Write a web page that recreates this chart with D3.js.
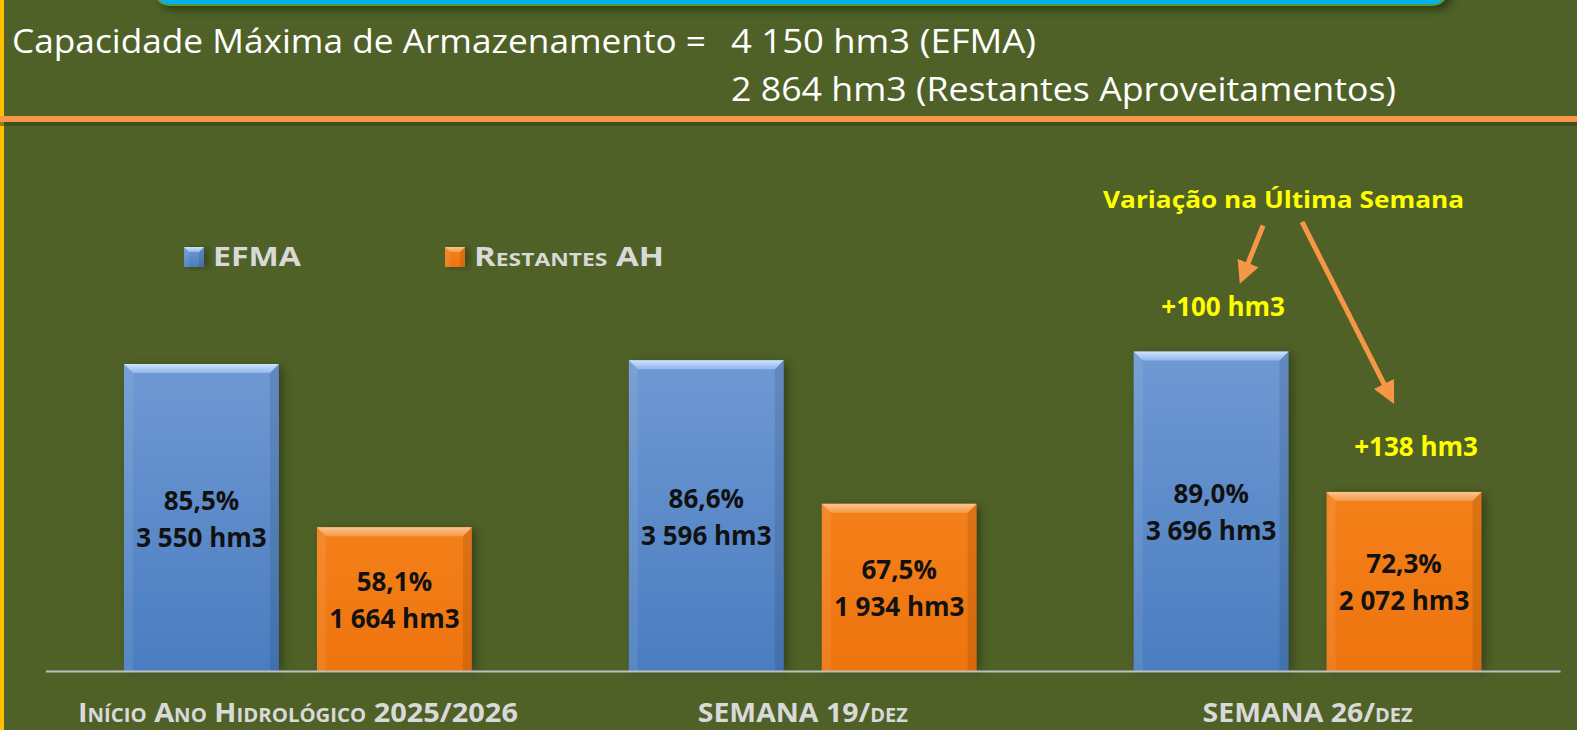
<!DOCTYPE html>
<html>
<head>
<meta charset="utf-8">
<script src="https://cdn.jsdelivr.net/npm/d3@7"></script>
<style>
  html, body { margin: 0; padding: 0; background: #506128; overflow: hidden; }
  svg { display: block; font-family: "Open Sans", sans-serif; }
</style>
</head>
<body>
<div id="chart"></div>
<script>
// data
var categories = ["Início Ano Hidrológico 2025/2026", "SEMANA 19/dez", "SEMANA 26/dez"];
var seriesNames = ["EFMA", "Restantes AH"];
var efmaVolume = [3550, 3596, 3696];
var efmaPercent = ["85,5%", "86,6%", "89,0%"];
var restVolume = [1664, 1934, 2072];
var restPercent = ["58,1%", "67,5%", "72,3%"];
var capacity = [4150, 2864];
var weeklyChange = ["+100 hm3", "+138 hm3"];

var W = 1577, H = 730;
var margin = {top: 282, left: 45.5, right: 17, bottom: 59};

var svg = d3.select("#chart").append("svg")
    .attr("width", W)
    .attr("height", H);

var defs = svg.append("defs");

// gradients for the bevelled bars
function vgrad(id, stops) {
  var g = defs.append("linearGradient").attr("id", id)
    .attr("x1", 0).attr("y1", 0).attr("x2", 0).attr("y2", 1);
  stops.forEach(function(s) {
    g.append("stop").attr("offset", s[0]).attr("stop-color", s[1]);
  });
}
vgrad("blueBody", [[0, "#6f99d3"], [1, "#4a7dc0"]]);
vgrad("blueTop", [[0, "#cfe3ff"], [1, "#8fb6ea"]]);
vgrad("orangeBody", [[0, "#f4801a"], [1, "#ee740e"]]);
vgrad("orangeTop", [[0, "#fbc48e"], [1, "#f59a4a"]]);

defs.append("filter").attr("id", "blur")
  .attr("x", "-20%").attr("y", "-20%").attr("width", "140%").attr("height", "140%")
  .append("feGaussianBlur").attr("stdDeviation", 4);

var arrowMarker = defs.append("marker")
    .attr("id", "arrow")
    .attr("viewBox", "0 0 10 10")
    .attr("refX", 6).attr("refY", 5)
    .attr("markerWidth", 4.5).attr("markerHeight", 4.5)
    .attr("orient", "auto");
arrowMarker.append("path").attr("d", "M0,0 L10,5 L0,10 Z").attr("fill", "#f79646");

var colors = {
  "EFMA": {body: "url(#blueBody)", top: "url(#blueTop)", flat: "#4f81bd"},
  "Restantes AH": {body: "url(#orangeBody)", top: "url(#orangeTop)", flat: "#f07810"}
};

// ---------- header ----------
svg.append("rect")
  .attr("x", 0).attr("y", 0).attr("width", 4).attr("height", H)
  .attr("fill", "#ffc000");

svg.append("rect")
  .attr("x", 160).attr("y", -30).attr("width", 1292).attr("height", 40)
  .attr("rx", 14)
  .attr("fill", "#1e2c10").attr("opacity", 0.7)
  .attr("filter", "url(#blur)");
svg.append("rect")
  .attr("x", 155).attr("y", -30).attr("width", 1292).attr("height", 35)
  .attr("rx", 14)
  .attr("fill", "#00b0f0")
  .attr("stroke", "#5a9a2c").attr("stroke-width", 2);

var title = svg.append("g").attr("fill", "#ffffff").style("font-size", "32px");
title.append("text").attr("x", 12).attr("y", 53)
  .attr("textLength", 694).attr("lengthAdjust", "spacingAndGlyphs")
  .text("Capacidade Máxima de Armazenamento =");
var fmt = d3.formatLocale({decimal: ",", thousands: " ", grouping: [3], currency: ["", ""]}).format(",");
title.append("text").attr("x", 731).attr("y", 53)
  .attr("textLength", 305).attr("lengthAdjust", "spacingAndGlyphs")
  .text(fmt(capacity[0]) + " hm3 (EFMA)");
title.append("text").attr("x", 731).attr("y", 101)
  .attr("textLength", 665).attr("lengthAdjust", "spacingAndGlyphs")
  .text(fmt(capacity[1]) + " hm3 (Restantes Aproveitamentos)");

svg.append("rect")
  .attr("x", 0).attr("y", 121).attr("width", W).attr("height", 5)
  .attr("fill", "#2e3a17").attr("opacity", 0.5);
svg.append("rect")
  .attr("x", 0).attr("y", 116).attr("width", W).attr("height", 6)
  .attr("fill", "#f79646");

// ---------- scales ----------
var plotBottom = H - margin.bottom;
var x0 = d3.scaleBand()
    .domain(categories)
    .range([margin.left, W - margin.right])
    .paddingInner(0.311)
    .paddingOuter(0.1555);

var x1 = d3.scaleBand()
    .domain(seriesNames)
    .range([0, x0.bandwidth()])
    .paddingInner(0.197);

var y = d3.scaleLinear()
    .domain([0, 4500])
    .range([plotBottom, margin.top]);

var rows = categories.map(function(c, i) {
  return [
    {cat: c, s: "EFMA", v: efmaVolume[i], pct: efmaPercent[i]},
    {cat: c, s: "Restantes AH", v: restVolume[i], pct: restPercent[i]}
  ];
});

// ---------- bars ----------
function bevelBar(g, x, yTop, w, h, c, b) {
  g.append("rect")
    .attr("x", x + 4).attr("y", yTop + 2).attr("width", w).attr("height", h - 2)
    .attr("fill", "#1f2a0d").attr("opacity", 0.55)
    .attr("filter", "url(#blur)");
  g.append("rect")
    .attr("x", x).attr("y", yTop).attr("width", w).attr("height", h)
    .attr("fill", c.body);
  g.append("polygon")
    .attr("points", [[x, yTop], [x + b, yTop + b], [x + b, yTop + h], [x, yTop + h]].join(" "))
    .attr("fill", "#ffffff").attr("opacity", 0.08);
  g.append("polygon")
    .attr("points", [[x + w, yTop], [x + w - b, yTop + b], [x + w - b, yTop + h], [x + w, yTop + h]].join(" "))
    .attr("fill", "#000000").attr("opacity", 0.1);
  g.append("polygon")
    .attr("points", [[x, yTop], [x + w, yTop], [x + w - b, yTop + b], [x + b, yTop + b]].join(" "))
    .attr("fill", c.top);
}

var groups = svg.selectAll("g.grp")
  .data(rows)
  .enter().append("g")
    .attr("class", "grp")
    .attr("transform", function(d) { return "translate(" + x0(d[0].cat) + ",0)"; });

groups.selectAll("g.bar")
  .data(function(d) { return d; })
  .enter().append("g")
    .attr("class", "bar")
    .each(function(d) {
      var g = d3.select(this);
      var bx = x1(d.s), by = y(d.v), bw = x1.bandwidth(), bh = plotBottom - y(d.v);
      bevelBar(g, bx, by, bw, bh, colors[d.s], 9);
      var cy = by + bh / 2;
      var t = g.append("text")
        .attr("text-anchor", "middle")
        .attr("fill", "#111111")
        .style("font-size", "26px")
        .style("font-weight", "bold");
      t.append("tspan").attr("x", bx + bw / 2).attr("y", cy - 8).text(d.pct);
      t.append("tspan").attr("x", bx + bw / 2).attr("y", cy + 29).text(fmt(d.v) + " hm3");
    });

// ---------- axis ----------
var xAxis = svg.append("g")
  .attr("transform", "translate(0," + plotBottom + ")")
  .call(d3.axisBottom(x0).tickSize(0).tickSizeOuter(0));
xAxis.select(".domain").attr("stroke", "#bfbfbf").attr("stroke-width", 2);
var labelWidths = [440, 210, 210];
xAxis.selectAll(".tick text")
  .attr("y", 0).attr("dy", 0)
  .attr("transform", "translate(0,51)")
  .attr("fill", "#d9d9d9")
  .style("font-family", "'Open Sans', sans-serif")
  .style("font-size", "27px")
  .style("font-weight", "bold")
  .style("font-variant", "small-caps")
  .attr("textLength", function(d, i) { return labelWidths[i]; })
  .attr("lengthAdjust", "spacingAndGlyphs");

// ---------- legend ----------
var legendX = [184, 445];
var legendW = [88, 190];
var legend = svg.selectAll("g.leg")
  .data(seriesNames)
  .enter().append("g")
    .attr("class", "leg")
    .attr("transform", function(d, i) { return "translate(" + legendX[i] + ",247)"; });
legend.each(function(d) {
  var g = d3.select(this);
  bevelBar(g, 0, 0, 20, 20, colors[d], 5);
});
legend.append("text")
  .attr("x", 29).attr("y", 19)
  .attr("fill", "#d9d9d9")
  .style("font-size", "26px")
  .style("font-weight", "bold")
  .style("font-variant", "small-caps")
  .attr("textLength", function(d, i) { return legendW[i]; })
  .attr("lengthAdjust", "spacingAndGlyphs")
  .text(function(d) { return d; });

// ---------- weekly change annotation ----------
var last = categories[categories.length - 1];
var ann = svg.append("g").attr("fill", "#ffff00").style("font-weight", "bold");
ann.append("text")
  .attr("x", x0(last) + x0.bandwidth() / 2 - 24)
  .attr("y", 208)
  .attr("text-anchor", "middle")
  .style("font-size", "24px")
  .attr("textLength", 361).attr("lengthAdjust", "spacingAndGlyphs")
  .text("Variação na Última Semana");

var lastVals = [efmaVolume[2], restVolume[2]];
seriesNames.forEach(function(s, i) {
  var cx = x0(last) + x1(s) + x1.bandwidth() / 2 + 12;
  ann.append("text")
    .attr("x", cx)
    .attr("y", y(lastVals[i]) - 36)
    .attr("text-anchor", "middle")
    .style("font-size", "26px")
    .text(weeklyChange[i]);
});

var a1x = x0(last) + x1("EFMA") + x1.bandwidth() / 2;
var a2x = x0(last) + x1("Restantes AH") + x1.bandwidth() / 2;
svg.append("line")
  .attr("x1", a1x + 52).attr("y1", y(lastVals[0]) - 126)
  .attr("x2", a1x + 32).attr("y2", y(lastVals[0]) - 76)
  .attr("stroke", "#f79646").attr("stroke-width", 5)
  .attr("marker-end", "url(#arrow)");
svg.append("line")
  .attr("x1", a2x - 102).attr("y1", y(lastVals[1]) - 270)
  .attr("x2", a2x - 14).attr("y2", y(lastVals[1]) - 96)
  .attr("stroke", "#f79646").attr("stroke-width", 5)
  .attr("marker-end", "url(#arrow)");
</script>
</body>
</html>
